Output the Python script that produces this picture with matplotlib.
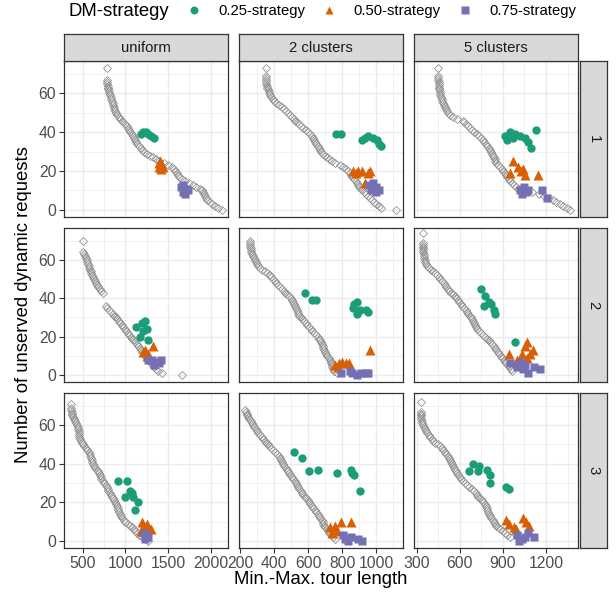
import matplotlib
matplotlib.use('Agg')
import matplotlib.pyplot as plt
from matplotlib.lines import Line2D
from matplotlib.ticker import MultipleLocator

plt.rcParams['font.family'] = ['Liberation Sans', 'DejaVu Sans']

distributions = ['uniform', '2 clusters', '5 clusters']
dm_labels = ['1', '2', '3']
strategies = ['0.25-strategy', '0.50-strategy', '0.75-strategy']
colors = ['#1B9E77', '#D95F02', '#7570B3']
markers = ['o', '^', 's']

# x axis per column (free x scales)
x_limits = [(281, 2203), (192, 1159), (281, 1423)]
x_major = [500, 200, 300]

# Pareto fronts (grey diamonds) as (unserved requests, tour length) pairs
u1_front = [(73, 781), (67, 788), (66, 789), (65, 790), (64, 793), (63, 797), (62, 800), (61, 806),
            (60, 812), (59, 818), (58, 826), (57, 835), (56, 843), (55, 850), (54, 856), (53, 862),
            (52, 870), (51, 878), (50, 890), (49, 905), (48, 920), (47, 935), (46, 955), (45, 975),
            (44, 995), (43, 1015), (42, 1034), (41, 1045), (40, 1060), (39, 1075), (38, 1088),
            (37, 1100), (36, 1112), (35, 1125), (34, 1142), (33, 1160), (32, 1178), (31, 1195),
            (30, 1215), (29, 1250), (28, 1290), (27, 1320), (26, 1360), (25, 1400), (24, 1450),
            (23, 1500), (22, 1545), (21, 1570), (20, 1585), (19, 1600), (18, 1612), (17, 1625),
            (16, 1660), (15, 1700), (14, 1750), (13, 1790), (12, 1830), (11, 1870), (10, 1893),
            (9, 1910), (8, 1925), (7, 1935), (6, 1945), (5, 1955), (4, 1990), (3, 2020), (2, 2050),
            (1, 2080), (0, 2135)]
c2_1_front = [(73, 349), (69, 349), (68, 349), (67, 351), (66, 352), (65, 354), (64, 356), (63, 358),
              (62, 362), (61, 366), (60, 370), (59, 375), (58, 382), (57, 390), (56, 400), (55, 412),
              (54, 428), (53, 445), (52, 460), (51, 470), (50, 482), (49, 495), (48, 505), (47, 515),
              (46, 525), (45, 535), (44, 547), (43, 558), (42, 570), (41, 585), (40, 598), (39, 612),
              (38, 622), (37, 630), (36, 636), (35, 642), (34, 648), (33, 655), (32, 662), (31, 670),
              (30, 678), (29, 688), (28, 700), (27, 712), (26, 725), (25, 740), (24, 760), (23, 790),
              (22, 808), (21, 825), (20, 835), (19, 845), (18, 852), (17, 860), (16, 870), (15, 880),
              (14, 888), (13, 895), (12, 902), (11, 910), (10, 920), (9, 930), (8, 940), (7, 950),
              (6, 962), (5, 975), (4, 988), (3, 1000), (2, 1015), (1, 1030), (0, 1120)]
c5_1_front = [(73, 450), (69, 450), (68, 450), (67, 451), (66, 452), (65, 453), (64, 455), (63, 456),
              (62, 458), (61, 460), (60, 462), (59, 465), (58, 469), (57, 473), (56, 479), (55, 485),
              (54, 491), (53, 497), (52, 503), (51, 510), (50, 520), (49, 530), (48, 550), (47, 580),
              (46, 620), (45, 632), (44, 645), (43, 658), (42, 670), (41, 685), (40, 700), (39, 718),
              (38, 735), (37, 748), (36, 760), (35, 770), (34, 780), (33, 790), (32, 800), (31, 808),
              (30, 815), (29, 822), (28, 830), (27, 836), (26, 842), (25, 848), (24, 855), (23, 868),
              (22, 880), (21, 892), (20, 903), (19, 912), (18, 920), (17, 930), (16, 940), (15, 950),
              (14, 960), (13, 975), (12, 990), (11, 1015), (10, 1040), (9, 1100), (8, 1150),
              (7, 1185), (6, 1220), (5, 1250), (4, 1270), (3, 1295), (2, 1320), (1, 1345), (0, 1367)]
u2_front = [(70, 500), (64, 508), (63, 515), (62, 528), (61, 540), (60, 547), (59, 555), (58, 562),
            (57, 570), (56, 578), (55, 585), (54, 592), (53, 600), (52, 610), (51, 620), (50, 630),
            (49, 640), (48, 652), (47, 665), (46, 682), (45, 700), (44, 718), (43, 735), (36, 773),
            (35, 790), (34, 810), (33, 830), (32, 850), (31, 868), (30, 885), (29, 902), (28, 920),
            (27, 940), (26, 960), (25, 978), (24, 995), (23, 1012), (22, 1030), (21, 1048),
            (20, 1065), (19, 1082), (18, 1100), (17, 1118), (16, 1135), (15, 1152), (14, 1170),
            (13, 1185), (12, 1200), (11, 1218), (10, 1235), (9, 1252), (8, 1268), (7, 1285),
            (6, 1305), (5, 1322), (4, 1340), (3, 1360), (2, 1380), (1, 1425), (0, 1659)]
c2_2_front = [(70, 257), (69, 257), (68, 258), (67, 259), (66, 260), (65, 262), (64, 265), (63, 270),
              (62, 275), (61, 280), (60, 286), (59, 292), (58, 298), (57, 306), (56, 315), (55, 330),
              (54, 345), (53, 360), (52, 372), (51, 382), (50, 392), (49, 402), (48, 412), (47, 424),
              (46, 435), (45, 445), (44, 455), (43, 465), (42, 475), (41, 488), (40, 500), (39, 506),
              (38, 512), (37, 517), (36, 522), (35, 528), (34, 533), (33, 537), (32, 541), (31, 548),
              (30, 555), (29, 565), (28, 575), (27, 585), (26, 595), (25, 605), (24, 615), (23, 625),
              (22, 635), (21, 645), (20, 655), (19, 662), (18, 668), (17, 674), (16, 680), (15, 685),
              (14, 690), (13, 694), (12, 698), (11, 705), (10, 712), (9, 720), (8, 728), (7, 732),
              (6, 735), (5, 738), (4, 742), (3, 746), (2, 750), (1, 767)]
c5_2_front = [(74, 342), (69, 342), (68, 342), (67, 343), (66, 344), (65, 345), (64, 347), (63, 348),
              (62, 350), (61, 352), (60, 355), (59, 360), (58, 365), (57, 375), (56, 385), (55, 400),
              (54, 415), (53, 428), (52, 440), (51, 452), (50, 465), (49, 478), (48, 490), (47, 498),
              (46, 505), (45, 515), (44, 525), (43, 540), (42, 555), (41, 565), (40, 575), (39, 585),
              (38, 595), (37, 605), (36, 615), (35, 628), (34, 640), (33, 650), (32, 660), (31, 668),
              (30, 675), (29, 682), (28, 690), (27, 698), (26, 705), (25, 712), (24, 720), (23, 732),
              (22, 745), (21, 760), (20, 775), (19, 788), (18, 800), (17, 812), (16, 825), (15, 835),
              (14, 845), (13, 855), (12, 865), (11, 875), (10, 885), (9, 895), (8, 905), (7, 915),
              (6, 925), (5, 935), (4, 945), (3, 953), (2, 961)]
u3_front = [(71, 359), (69, 365), (68, 368), (67, 370), (66, 371), (65, 380), (64, 390), (63, 400),
            (62, 410), (61, 420), (60, 430), (59, 440), (58, 449), (57, 452), (56, 455), (55, 458),
            (54, 462), (53, 468), (52, 480), (51, 492), (50, 505), (49, 520), (48, 535), (47, 552),
            (46, 570), (45, 582), (44, 590), (43, 598), (42, 605), (41, 615), (40, 624), (39, 637),
            (38, 650), (37, 665), (36, 680), (35, 690), (34, 700), (33, 710), (32, 720), (31, 738),
            (30, 755), (29, 770), (28, 785), (27, 793), (26, 800), (25, 815), (24, 830), (23, 842),
            (22, 855), (21, 868), (20, 880), (19, 890), (18, 900), (17, 910), (16, 917), (15, 926),
            (14, 935), (13, 950), (12, 965), (11, 980), (10, 1000), (9, 1030), (8, 1060), (7, 1080),
            (6, 1100), (5, 1118), (4, 1135), (3, 1165), (2, 1200), (1, 1235), (0, 1268)]
c2_3_front = [(68, 228), (67, 232), (66, 237), (65, 242), (64, 247), (63, 253), (62, 260), (61, 266),
              (60, 272), (59, 280), (58, 290), (57, 298), (56, 305), (55, 315), (54, 326), (53, 335),
              (52, 345), (51, 353), (50, 362), (49, 371), (48, 380), (47, 392), (46, 405), (45, 415),
              (44, 425), (43, 432), (42, 440), (41, 447), (40, 453), (39, 460), (38, 468), (37, 475),
              (36, 482), (35, 488), (34, 495), (33, 502), (32, 510), (31, 520), (30, 530), (29, 536),
              (28, 542), (27, 548), (26, 555), (25, 562), (24, 570), (23, 580), (22, 590), (21, 598),
              (20, 605), (19, 612), (18, 620), (17, 630), (16, 640), (15, 648), (14, 655), (13, 664),
              (12, 672), (11, 679), (10, 685), (9, 690), (8, 695), (7, 702), (6, 710), (5, 718),
              (4, 725), (3, 735), (2, 745), (1, 757)]
c5_3_front = [(72, 328), (67, 328), (66, 329), (65, 330), (64, 332), (63, 333), (62, 335), (61, 338),
              (60, 342), (59, 350), (58, 358), (57, 366), (56, 375), (55, 385), (54, 395), (53, 405),
              (52, 416), (51, 430), (50, 445), (49, 460), (48, 474), (47, 485), (46, 495), (45, 505),
              (44, 515), (43, 524), (42, 532), (41, 538), (40, 545), (39, 552), (38, 560), (37, 566),
              (36, 572), (35, 578), (34, 585), (33, 598), (32, 610), (31, 622), (30, 636), (29, 650),
              (28, 665), (27, 682), (26, 700), (25, 710), (24, 718), (23, 728), (22, 740), (21, 752),
              (20, 764), (19, 772), (18, 780), (17, 786), (16, 792), (15, 798), (14, 805), (13, 812),
              (12, 820), (11, 830), (10, 838), (9, 843), (8, 850), (7, 865), (6, 880), (5, 898),
              (4, 915), (3, 932), (2, 949)]

# ---- DM 1 strategies ----
u1_g_x = [1185, 1210, 1240, 1270, 1300, 1330]
u1_g_y = [39, 40, 40, 39, 38, 37]
u1_o_x = [1390, 1410, 1430, 1440, 1420, 1400]
u1_o_y = [24, 25, 23, 22, 21, 22]
u1_p_x = [1650, 1680, 1710, 1740, 1700, 1670]
u1_p_y = [12, 13, 11, 10, 8, 9]

c2_1_g_x = [765, 795, 915, 935, 955, 985, 1005, 1020, 1030]
c2_1_g_y = [39, 39, 36, 37, 38, 37, 36, 34, 33]
c2_1_o_x = [865, 880, 895, 920, 950, 965, 935]
c2_1_o_y = [20, 19, 20, 20, 19, 20, 14]
c2_1_p_x = [960, 985, 1000, 970, 1000, 1020]
c2_1_p_y = [13, 14, 12, 10, 9, 10]

c5_1_g_x = [915, 949, 984, 1019, 1054, 1077, 1093, 1130, 926, 972]
c5_1_g_y = [38, 40, 39, 38, 37, 35, 32, 41, 36, 37]
c5_1_o_x = [972, 950, 1005, 1025, 1054, 1146, 1040]
c5_1_o_y = [25, 19, 22, 20, 18, 18, 21]
c5_1_p_x = [1020, 1045, 1075, 1030, 1060, 1170, 1205]
c5_1_p_y = [10, 12, 10, 8, 9, 10, 6]

# ---- DM 2 strategies ----
u2_g_x = [1130, 1190, 1230, 1250, 1170, 1270, 1210]
u2_g_y = [25, 27, 28, 24, 20, 18, 23]
u2_o_x = [1320, 1210, 1250, 1280, 1235, 1265]
u2_o_y = [15, 12, 10, 10, 13, 11]
u2_p_x = [1270, 1310, 1360, 1420, 1330, 1390]
u2_p_y = [8, 8, 7, 8, 5, 6]

c2_2_g_x = [580, 620, 645, 870, 890, 865, 905, 940, 955, 885]
c2_2_g_y = [43, 39, 39, 37, 38, 35, 34, 34, 33, 32]
c2_2_o_x = [760, 780, 800, 820, 840, 775, 965]
c2_2_o_y = [5, 6, 7, 6, 6, 4, 13]
c2_2_p_x = [795, 845, 860, 885, 910, 940, 955]
c2_2_p_y = [1, 2, 1, 0, 1, 1, 1]

c5_2_g_x = [745, 775, 805, 820, 765, 835, 845, 985]
c5_2_g_y = [45, 41, 38, 37, 36, 34, 32, 17]
c5_2_o_x = [940, 1065, 1055, 1110, 1030, 1090, 1065, 995]
c5_2_o_y = [11, 17, 15, 13, 11, 11, 9, 8]
c5_2_p_x = [950, 1020, 1055, 1120, 1155, 1075, 995, 1040]
c5_2_p_y = [6, 7, 5, 4, 3, 1, 4, 3]

# ---- DM 3 strategies ----
u3_g_x = [915, 1015, 1055, 995, 1095, 1150, 1110, 1075]
u3_g_y = [31, 31, 26, 23, 23, 20, 16, 25]
u3_o_x = [1190, 1215, 1250, 1300, 1230, 1180]
u3_o_y = [10, 8, 9, 6, 6, 5]
u3_p_x = [1220, 1240, 1260, 1235, 1255]
u3_p_y = [4, 3, 2, 1, 2]

c2_3_g_x = [518, 565, 604, 655, 771, 851, 859, 871, 904]
c2_3_g_y = [46, 43, 36, 37, 35, 37, 35, 34, 26]
c2_3_o_x = [730, 757, 795, 855, 767, 740]
c2_3_o_y = [7, 8, 10, 10, 5, 4]
c2_3_p_x = [805, 815, 835, 855, 895, 920]
c2_3_p_y = [3, 1, 0, 2, 1, 0]

c5_3_g_x = [665, 695, 735, 730, 790, 810, 810, 925, 945]
c5_3_g_y = [36, 40, 39, 36, 37, 34, 30, 28, 27]
c5_3_o_x = [925, 945, 1040, 1060, 1080, 975, 990]
c5_3_o_y = [11, 9, 12, 10, 8, 7, 6]
c5_3_p_x = [995, 1030, 1075, 1120, 1055, 1010]
c5_3_p_y = [3, 1, 4, 2, 2, 0]

panels = {
    (0, 0): (u1_front, [(u1_g_x, u1_g_y), (u1_o_x, u1_o_y), (u1_p_x, u1_p_y)]),
    (0, 1): (c2_1_front, [(c2_1_g_x, c2_1_g_y), (c2_1_o_x, c2_1_o_y), (c2_1_p_x, c2_1_p_y)]),
    (0, 2): (c5_1_front, [(c5_1_g_x, c5_1_g_y), (c5_1_o_x, c5_1_o_y), (c5_1_p_x, c5_1_p_y)]),
    (1, 0): (u2_front, [(u2_g_x, u2_g_y), (u2_o_x, u2_o_y), (u2_p_x, u2_p_y)]),
    (1, 1): (c2_2_front, [(c2_2_g_x, c2_2_g_y), (c2_2_o_x, c2_2_o_y), (c2_2_p_x, c2_2_p_y)]),
    (1, 2): (c5_2_front, [(c5_2_g_x, c5_2_g_y), (c5_2_o_x, c5_2_o_y), (c5_2_p_x, c5_2_p_y)]),
    (2, 0): (u3_front, [(u3_g_x, u3_g_y), (u3_o_x, u3_o_y), (u3_p_x, u3_p_y)]),
    (2, 1): (c2_3_front, [(c2_3_g_x, c2_3_g_y), (c2_3_o_x, c2_3_o_y), (c2_3_p_x, c2_3_p_y)]),
    (2, 2): (c5_3_front, [(c5_3_g_x, c5_3_g_y), (c5_3_o_x, c5_3_o_y), (c5_3_p_x, c5_3_p_y)]),
}

W, H = 616, 596
fig = plt.figure(figsize=(W / 100, H / 100), dpi=100)


def px_axes(x0, y0, x1, y1):
    return fig.add_axes([x0 / W, 1 - y1 / H, (x1 - x0) / W, (y1 - y0) / H])


col_px = [(64, 228), (239, 403), (414, 578)]
row_px = [(61, 217), (228, 382), (393, 548)]
border = '#333333'
marker_sizes = [6.0, 6.6, 5.4]

for (r, c), (front, groups) in panels.items():
    x0, x1 = col_px[c]
    y0, y1 = row_px[r]
    ax = px_axes(x0, y0, x1, y1)
    ax.set_xlim(*x_limits[c])
    ax.set_ylim(-3.65, 76.65)
    ax.xaxis.set_major_locator(MultipleLocator(x_major[c]))
    ax.xaxis.set_minor_locator(MultipleLocator(x_major[c] / 2))
    ax.yaxis.set_major_locator(MultipleLocator(20))
    ax.yaxis.set_minor_locator(MultipleLocator(10))
    ax.grid(which='major', color='#EBEBEB', lw=1.0)
    ax.grid(which='minor', color='#EBEBEB', lw=0.5)
    ax.set_axisbelow(True)
    for s in ax.spines.values():
        s.set_color(border)
        s.set_linewidth(0.9)
    ax.tick_params(which='minor', length=0)
    ax.tick_params(which='major', length=3.5, width=0.8, color=border,
                   labelsize=11.3, labelcolor='#4D4D4D', pad=2)
    if c != 0:
        ax.tick_params(axis='y', which='major', length=0, labelleft=False)
    if r != 2:
        ax.tick_params(axis='x', which='major', length=0, labelbottom=False)

    fy = [p[0] for p in front]
    fx = [p[1] for p in front]
    ax.plot(fx, fy, linestyle='none', marker='D', ms=4.3, mfc='none',
            mec='#939393', mew=0.6, zorder=2)
    for k, (gx, gy) in enumerate(groups):
        ax.plot(gx, gy, linestyle='none', marker=markers[k], ms=marker_sizes[k],
                color=colors[k], mec='none', zorder=3 + k)

# top strips
for c, name in enumerate(distributions):
    x0, x1 = col_px[c]
    sax = px_axes(x0, 34, x1, 61)
    sax.set_facecolor('#D9D9D9')
    sax.set_xticks([])
    sax.set_yticks([])
    for s in sax.spines.values():
        s.set_color(border)
        s.set_linewidth(0.9)
    sax.text(0.5, 0.5, name, ha='center', va='center', fontsize=10.7,
             color='#1A1A1A', transform=sax.transAxes)

# right strips
for r, name in enumerate(dm_labels):
    y0, y1 = row_px[r]
    sax = px_axes(580, y0, 607, y1)
    sax.set_facecolor('#D9D9D9')
    sax.set_xticks([])
    sax.set_yticks([])
    for s in sax.spines.values():
        s.set_color(border)
        s.set_linewidth(0.9)
    sax.text(0.5, 0.5, name, ha='center', va='center', fontsize=10.7,
             color='#1A1A1A', rotation=-90, transform=sax.transAxes)

fig.text(321 / W, 1 - 580 / H, 'Min.-Max. tour length', ha='center', va='center', fontsize=13.3)
fig.text(24 / W, 1 - 305 / H, 'Number of unserved dynamic requests', ha='center', va='center',
         rotation=90, fontsize=13.3)

# legend on top
fig.text(69 / W, 1 - 11 / H, 'DM-strategy', ha='left', va='center', fontsize=13.3)
handles = [Line2D([], [], linestyle='none', marker=markers[k], ms=marker_sizes[k] * 0.95,
                  color=colors[k], mec='none') for k in range(3)]
fig.legend(handles, strategies, ncol=3, loc='center left', bbox_to_anchor=(179 / W, 1 - 11 / H),
           frameon=False, fontsize=10.7, handlelength=2.0, handletextpad=0.65,
           columnspacing=0.6, borderpad=0, borderaxespad=0)

fig.savefig('out.png', dpi=100)
